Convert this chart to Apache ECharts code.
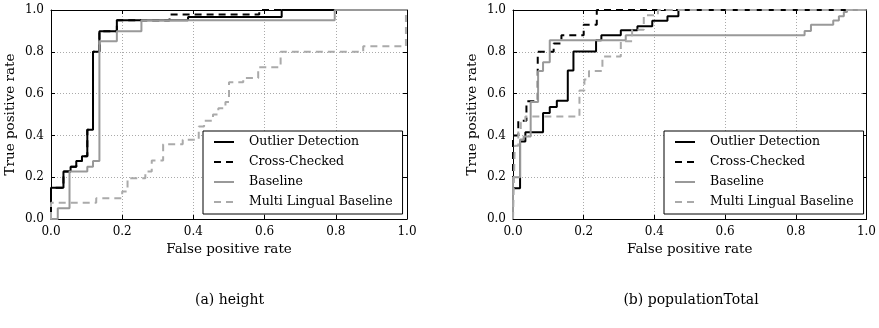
<!DOCTYPE html>
<html>
<head>
<meta charset="utf-8">
<script src="https://cdn.jsdelivr.net/npm/echarts@6/dist/echarts.min.js"></script>
<style>
html,body{margin:0;padding:0;background:#fff;}
#chart{width:879px;height:328px;}
</style>
</head>
<body>
<div id="chart"></div>
<script>
// ---- data ----
const seriesNames = ['Outlier Detection', 'Cross-Checked', 'Baseline', 'Multi Lingual Baseline'];
const tickValues = [0, 0.2, 0.4, 0.6, 0.8, 1.0];
const tickLabels = ['0.0', '0.2', '0.4', '0.6', '0.8', '1.0'];
const captions = ['(a) height', '(b) populationTotal'];
const xAxisTitle = 'False positive rate';
const yAxisTitle = 'True positive rate';

// (a) height
const heightOutlierX = [0,0,0.035,0.035,0.055,0.055,0.071,0.071,0.087,0.087,0.102,0.102,0.118,0.118,0.136,0.136,0.185,0.185,0.385,0.385,0.648,0.648,1.0];
const heightOutlierY = [0,0.15,0.15,0.227,0.227,0.25,0.25,0.278,0.278,0.30,0.30,0.427,0.427,0.80,0.80,0.898,0.898,0.951,0.951,0.967,0.967,1.0,1.0];
const heightCrossX = [0,0,0.035,0.035,0.055,0.055,0.071,0.071,0.087,0.087,0.102,0.102,0.118,0.118,0.136,0.136,0.185,0.185,0.333,0.333,0.585,0.585,1.0];
const heightCrossY = [0,0.15,0.15,0.227,0.227,0.25,0.25,0.278,0.278,0.30,0.30,0.427,0.427,0.80,0.80,0.898,0.898,0.951,0.951,0.978,0.978,1.0,1.0];
const heightBaseX = [0,0.019,0.019,0.052,0.052,0.102,0.102,0.118,0.118,0.136,0.136,0.185,0.185,0.254,0.254,0.797,0.797,1.0];
const heightBaseY = [0,0,0.051,0.051,0.227,0.227,0.25,0.25,0.278,0.278,0.85,0.85,0.898,0.898,0.951,0.951,1.0,1.0];
const heightMlX = [0,0,0.127,0.127,0.2,0.2,0.215,0.215,0.265,0.265,0.283,0.283,0.315,0.315,0.37,0.37,0.415,0.415,0.43,0.43,0.455,0.455,0.47,0.47,0.49,0.49,0.5,0.5,0.54,0.54,0.582,0.582,0.645,0.645,0.877,0.877,0.997,0.997];
const heightMlY = [0,0.078,0.078,0.099,0.099,0.131,0.131,0.195,0.195,0.227,0.227,0.28,0.28,0.358,0.358,0.379,0.379,0.443,0.443,0.47,0.47,0.5,0.5,0.53,0.53,0.56,0.56,0.654,0.654,0.675,0.675,0.726,0.726,0.80,0.80,0.826,0.826,1.0];

// (b) populationTotal
const popOutlierX = [0,0,0.02,0.02,0.035,0.035,0.085,0.085,0.104,0.104,0.124,0.124,0.155,0.155,0.171,0.171,0.235,0.235,0.25,0.25,0.305,0.305,0.352,0.352,0.394,0.394,0.437,0.437,0.468,0.468,1.0];
const popOutlierY = [0,0.147,0.147,0.371,0.371,0.415,0.415,0.507,0.507,0.536,0.536,0.566,0.566,0.71,0.71,0.802,0.802,0.855,0.855,0.879,0.879,0.903,0.903,0.922,0.922,0.948,0.948,0.97,0.97,1.0,1.0];
const popCrossX = [0,0,0.015,0.015,0.038,0.038,0.07,0.07,0.115,0.115,0.137,0.137,0.2,0.2,0.237,0.237,1.0];
const popCrossY = [0,0.4,0.4,0.47,0.47,0.563,0.563,0.8,0.8,0.84,0.84,0.879,0.879,0.93,0.93,1.0,1.0];
const popBaseX = [0,0,0.02,0.02,0.03,0.03,0.05,0.05,0.071,0.071,0.085,0.085,0.104,0.104,0.319,0.319,0.825,0.825,0.843,0.843,0.906,0.906,0.922,0.922,0.936,0.936,0.945,0.945,1.0];
const popBaseY = [0,0.2,0.2,0.38,0.38,0.395,0.395,0.56,0.56,0.708,0.708,0.75,0.75,0.855,0.855,0.879,0.879,0.90,0.90,0.93,0.93,0.95,0.95,0.97,0.97,0.99,0.99,1.0,1.0];
const popMlX = [0,0.005,0.005,0.015,0.015,0.022,0.022,0.035,0.035,0.188,0.188,0.202,0.202,0.215,0.215,0.253,0.253,0.305,0.305,0.337,0.337,0.37,0.37,0.41,0.41,1.0];
const popMlY = [0,0,0.35,0.35,0.42,0.42,0.46,0.46,0.49,0.49,0.615,0.615,0.667,0.667,0.708,0.708,0.778,0.778,0.85,0.85,0.906,0.906,0.975,0.975,1.0,1.0];

// ---- styling ----
const FONT = 'DejaVu Serif';
const styles = [
  {color: '#000000', type: 'solid'},
  {color: '#000000', type: [7, 5]},
  {color: '#999999', type: 'solid'},
  {color: '#aaaaaa', type: [7, 5]}
];
const grids = [
  {left: 51, top: 10, width: 356, height: 209},
  {left: 513, top: 10, width: 356, height: 209}
];

function pairs(xs, ys) { return xs.map((x, i) => [x, ys[i]]); }
function tickText(v) { return tickLabels[tickValues.findIndex(t => Math.abs(t - v) < 1e-6)]; }

const xAxes = [], yAxes = [];
grids.forEach((g, gi) => {
  const common = {
    gridIndex: gi, type: 'value', min: 0, max: 1, interval: 0.2,
    axisLine: {show: true, onZero: false, lineStyle: {color: '#000', width: 1}},
    axisTick: {show: true, inside: true, length: 4, lineStyle: {color: '#000', width: 1}},
    splitLine: {show: false}
  };
  xAxes.push(Object.assign({}, common, {
    position: 'bottom',
    axisLabel: {show: true, margin: 7, color: '#000', fontFamily: FONT, fontSize: 12, formatter: tickText},
    splitLine: {show: true, lineStyle: {color: '#aaaaaa', width: 1, type: [1, 2]}},
    name: xAxisTitle, nameLocation: 'middle', nameGap: 10,
    nameTextStyle: {color: '#000', fontFamily: FONT, fontSize: 13.5, verticalAlign: 'top'}
  }));
  xAxes.push(Object.assign({}, common, {position: 'top', axisLabel: {show: false}}));
  yAxes.push(Object.assign({}, common, {
    position: 'left',
    axisLabel: {show: true, margin: 7, color: '#000', fontFamily: FONT, fontSize: 12, formatter: tickText},
    splitLine: {show: true, lineStyle: {color: '#aaaaaa', width: 1, type: [1, 2]}},
    name: yAxisTitle, nameLocation: 'middle', nameGap: 34,
    nameTextStyle: {color: '#000', fontFamily: FONT, fontSize: 13.5}
  }));
  yAxes.push(Object.assign({}, common, {position: 'right', axisLabel: {show: false}}));
});

const dataSets = [
  [pairs(heightOutlierX, heightOutlierY), pairs(heightCrossX, heightCrossY), pairs(heightBaseX, heightBaseY), pairs(heightMlX, heightMlY)],
  [pairs(popOutlierX, popOutlierY), pairs(popCrossX, popCrossY), pairs(popBaseX, popBaseY), pairs(popMlX, popMlY)]
];

const series = [];
dataSets.forEach((sets, gi) => {
  sets.forEach((d, si) => {
    series.push({
      type: 'line', name: seriesNames[si],
      xAxisIndex: gi * 2, yAxisIndex: gi * 2,
      data: d, symbol: 'none', clip: false, animation: false,
      lineStyle: {color: styles[si].color, width: 2, type: styles[si].type},
      itemStyle: {color: styles[si].color},
      z: 3 + si
    });
  });
});

const legendBase = {
  orient: 'vertical', top: 131, itemWidth: 20, itemHeight: 14, itemGap: 6,
  padding: [4, 10, 5, 10], borderColor: '#000', borderWidth: 1, borderRadius: 0,
  backgroundColor: '#fff', selectedMode: false, data: seriesNames,
  itemStyle: {opacity: 0, borderWidth: 0},
  textStyle: {color: '#000', fontFamily: FONT, fontSize: 12.5, padding: [0, 0, 0, 10], lineHeight: 14},
  z: 10
};

const option = {
  backgroundColor: '#fff',
  animation: false,
  grid: grids,
  xAxis: xAxes,
  yAxis: yAxes,
  legend: [
    Object.assign({}, legendBase, {left: 203}),
    Object.assign({}, legendBase, {left: 664})
  ],
  series: series,
  graphic: [
    {type: 'text', x: 229.5, y: 300, style: {text: captions[0], fill: '#000', font: '14px "DejaVu Serif"', align: 'center', verticalAlign: 'middle', textAlign: 'center', textVerticalAlign: 'middle'}},
    {type: 'text', x: 691, y: 300, style: {text: captions[1], fill: '#000', font: '14px "DejaVu Serif"', align: 'center', verticalAlign: 'middle', textAlign: 'center', textVerticalAlign: 'middle'}}
  ]
};

const chart = echarts.init(document.getElementById('chart'), null, {renderer: 'canvas'});
chart.setOption(option);
</script>
</body>
</html>
